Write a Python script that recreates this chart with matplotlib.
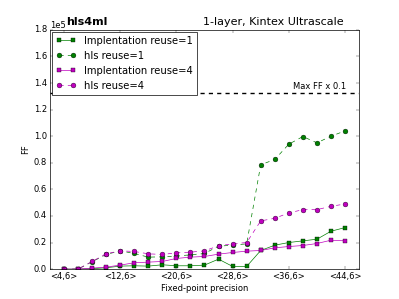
import matplotlib
matplotlib.use("Agg")
import matplotlib.pyplot as plt

plt.style.use("classic")

# Fixed-point total widths (integer bits fixed at 6)
precision = [4, 6, 8, 10, 12, 14, 16, 18, 20, 22, 24, 26, 28, 30, 32, 34, 36, 38, 40, 42, 44]
tick_vals = [4, 12, 20, 28, 36, 44]
tick_labels = ["<4,6>", "<12,6>", "<20,6>", "<28,6>", "<36,6>", "<44,6>"]

impl_reuse1 = [0, 0, 300, 1000, 2250, 2500, 2250, 3250, 2500, 2500, 3000, 7500,
               2000, 2000, 14000, 18000, 20000, 21250, 22500, 28500, 31250]
hls_reuse1 = [0, 0, 5500, 11000, 13750, 11750, 9000, 9250, 9750, 10750, 11750, 17250,
              18000, 19000, 78500, 82500, 94000, 99750, 95000, 100000, 104000]
impl_reuse4 = [0, 0, 750, 1500, 3000, 4750, 5250, 5750, 8000, 9000, 9500, 11250,
               12500, 13500, 14000, 16000, 17000, 17750, 19250, 21750, 21250]
hls_reuse4 = [0, 0, 5750, 11500, 13750, 13250, 11500, 11000, 12250, 12750, 13750, 17500,
              19000, 20000, 36250, 38250, 42250, 44750, 44750, 47250, 49000]

max_ff = 1326720  # Kintex Ultrascale KU115

fig, ax = plt.subplots(figsize=(7.98, 5.98), dpi=50)

ax.plot(precision, impl_reuse1, "g-s", markersize=5, label="Implentation reuse=1")
ax.plot(precision, hls_reuse1, "g--o", markersize=7, label="hls reuse=1")
ax.plot(precision, impl_reuse4, "m-s", markersize=5, label="Implentation reuse=4")
ax.plot(precision, hls_reuse4, "m--o", markersize=7, label="hls reuse=4")

ax.axhline(max_ff * 0.1, color="black", linestyle="--", linewidth=2)
ax.text(44.1, max_ff * 0.1 + 1500, "Max FF x 0.1", ha="right", va="bottom", fontsize=12)

ax.set_xlim(2, 46)
ax.set_ylim(0, 180000)
ax.set_xticks(tick_vals)
ax.set_xticklabels(tick_labels)
ax.ticklabel_format(style="sci", axis="y", scilimits=(0, 0))
ax.set_xlabel("Fixed-point precision")
ax.set_ylabel("FF")

ax.legend(loc="upper left", fontsize=14.4, numpoints=2, borderaxespad=0.2)

fig.text(0.165, 0.915, "hls4ml", fontsize=16, fontweight="bold")
fig.text(0.508, 0.915, "1-layer, Kintex Ultrascale", fontsize=16)

fig.savefig("out.png", dpi=50)
